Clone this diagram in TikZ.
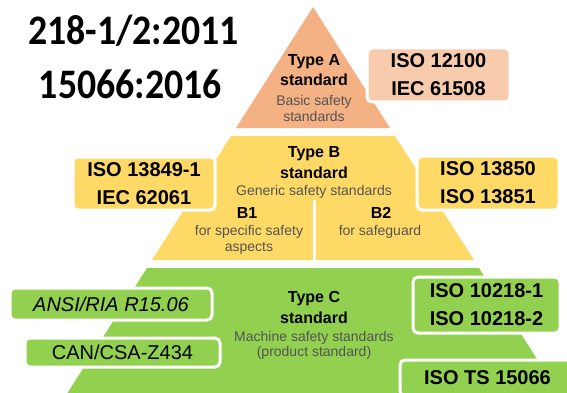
\documentclass[tikz,border=0pt]{standalone}
\usepackage{fontspec}
\setmainfont{Liberation Sans}
\newfontfamily\headfont{Carlito}
\usepackage{tikz}

\definecolor{TypeAfill}{HTML}{F4B183}
\definecolor{TypeAbox}{HTML}{F8CBAD}
\definecolor{TypeBfill}{HTML}{FFD966}
\definecolor{TypeCfill}{HTML}{92D050}
\definecolor{DescGray}{HTML}{545454}

\newcommand{\headtext}[1]{\scalebox{0.9}[1]{#1}}

\tikzset{
  stdbox/.style={draw=white, line width=3pt, rounded corners=5pt, inner sep=0pt,
    align=center, font=\bfseries\fontsize{20}{28}\selectfont},
  typetitle/.style={align=center, inner sep=0pt, font=\bfseries\fontsize{16}{20.5}\selectfont},
  typedesc/.style={align=center, inner sep=0pt, text=DescGray, font=\fontsize{14}{15.5}\selectfont},
  headline/.style={anchor=east, inner sep=0pt, font=\headfont\bfseries\fontsize{42}{50}\selectfont},
}

\begin{document}
\begin{tikzpicture}[x=1pt, y=-1pt]
\useasboundingbox (0,0) rectangle (567,393);

% pyramid levels
\fill[TypeAfill] (313,7) -- (236,128) -- (390,128) -- cycle;
\fill[TypeBfill] (231,136) -- (395,136) -- (474,260) -- (152,260) -- cycle;
\fill[TypeCfill] (147,268) -- (479,268) -- (563,400) -- (63,400) -- cycle;
\draw[white, line width=3pt] (314,200) -- (314,261);

% standards beside each level
\node[stdbox, fill=TypeAbox, minimum width=143pt, minimum height=54pt] (isoA) at (438.5,75) {ISO 12100\\IEC 61508};
\node[stdbox, fill=TypeBfill, minimum width=142pt, minimum height=53pt] (isoBleft) at (144,183.5) {ISO 13849-1\\IEC 62061};
\node[stdbox, fill=TypeBfill, minimum width=142pt, minimum height=54pt] (isoBright) at (488,183) {ISO 13850\\ISO 13851};
\node[stdbox, fill=TypeCfill, minimum width=202pt, minimum height=32pt, font=\itshape\fontsize{20}{28}\selectfont] (ansi) at (111,304) {ANSI/RIA R15.06};
\node[stdbox, fill=TypeCfill, minimum width=195pt, minimum height=29pt, font=\fontsize{20}{28}\selectfont] (csa) at (122.5,352.5) {CAN/CSA-Z434};
\node[stdbox, fill=TypeCfill, minimum width=147pt, minimum height=56pt] (robots) at (486.5,305) {ISO 10218-1\\ISO 10218-2};
\node[stdbox, fill=TypeCfill, minimum width=175pt, minimum height=36pt] (cobots) at (487.5,378) {ISO TS 15066};

% level texts
\node[typetitle] (titleA) at (314,70) {Type A\\standard};
\node[typedesc] (descA) at (314,108.5) {Basic safety\\standards};
\node[typetitle] (titleB) at (314,162.5) {Type B\\standard};
\node[typedesc] (descB) at (314,192) {Generic safety standards};
\node[typetitle] (titleB1) at (247,213) {B1};
\node[typedesc] (descB1) at (249,240) {for specific safety\\aspects};
\node[typetitle] (titleB2) at (381,213) {B2};
\node[typedesc] (descB2) at (380,232) {for safeguard};
\node[typetitle] (titleC) at (314,307.5) {Type C\\standard};
\node[typedesc] (descC) at (314,345.5) {Machine safety standards\\(product standard)};

% headline
\node[headline] (head1) at (239,31) {\headtext{218-1/2:2011}};
\node[headline] (head2) at (222,84) {\headtext{15066:2016}};
\end{tikzpicture}
\end{document}
